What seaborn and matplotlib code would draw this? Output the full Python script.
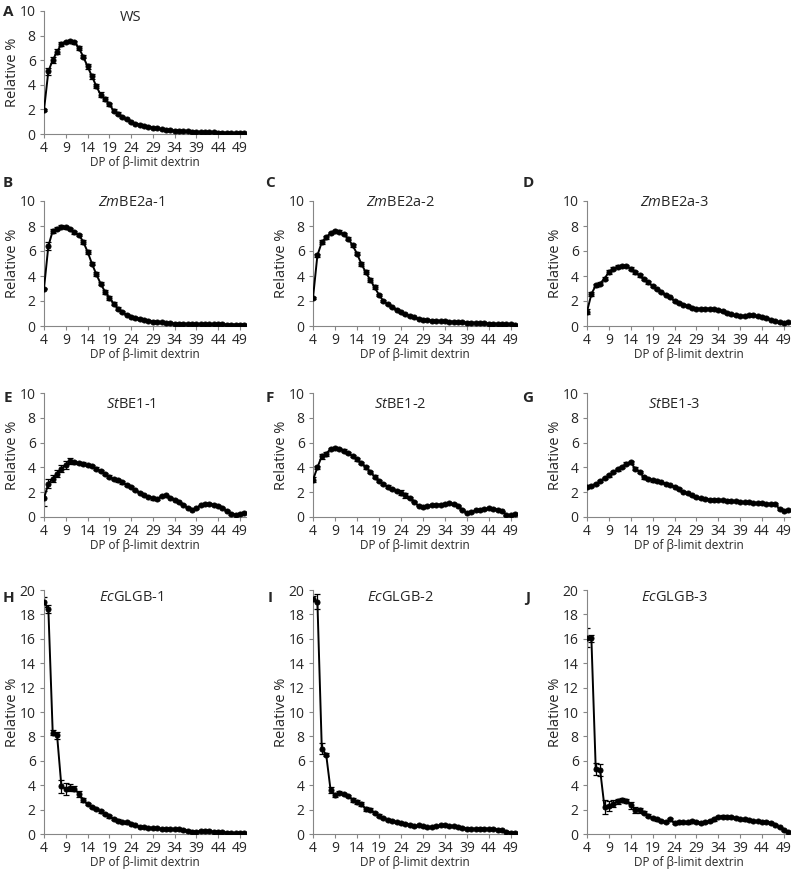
import matplotlib
matplotlib.use('Agg')
import numpy as np
import pandas as pd
import matplotlib.pyplot as plt
import seaborn as sns

# Degree of polymerisation (x axis categories)
dp = list(range(4, 51))
xticks = list(range(4, 50, 5))

# Relative % (DP 4..50)
ws = [1.95, 5.1, 6.0, 6.7, 7.3, 7.5, 7.55, 7.45, 7.0, 6.3,
      5.5, 4.7, 3.9, 3.2, 2.85, 2.4, 1.9, 1.65, 1.4, 1.2,
      0.95, 0.85, 0.75, 0.68, 0.6, 0.52, 0.45, 0.4, 0.35, 0.3,
      0.27, 0.25, 0.23, 0.21, 0.19, 0.17, 0.16, 0.15, 0.14, 0.13,
      0.12, 0.11, 0.1, 0.09, 0.08, 0.07, 0.06]
zm1 = [3.0, 6.4, 7.6, 7.8, 7.95, 7.9, 7.75, 7.5, 7.3, 6.75,
       5.95, 5.0, 4.15, 3.4, 2.75, 2.25, 1.8, 1.4, 1.12, 0.9,
       0.75, 0.65, 0.57, 0.5, 0.42, 0.36, 0.32, 0.3, 0.25, 0.22,
       0.2, 0.19, 0.18, 0.17, 0.17, 0.16, 0.16, 0.15, 0.15, 0.14,
       0.13, 0.13, 0.12, 0.12, 0.11, 0.1, 0.1]
zm2 = [2.25, 5.65, 6.7, 7.1, 7.45, 7.6, 7.55, 7.35, 7.0, 6.45,
       5.8, 4.97, 4.3, 3.7, 3.1, 2.5, 2.0, 1.75, 1.5, 1.3,
       1.1, 0.95, 0.8, 0.7, 0.6, 0.52, 0.47, 0.44, 0.42, 0.4,
       0.38, 0.36, 0.34, 0.32, 0.3, 0.28, 0.26, 0.25, 0.23, 0.22,
       0.2, 0.19, 0.17, 0.16, 0.14, 0.13, 0.12]
zm3 = [1.15, 2.55, 3.25, 3.4, 3.8, 4.3, 4.6, 4.75, 4.8, 4.8,
       4.6, 4.3, 4.05, 3.75, 3.5, 3.2, 2.95, 2.7, 2.5, 2.3,
       2.0, 1.85, 1.7, 1.6, 1.45, 1.38, 1.38, 1.4, 1.38, 1.35,
       1.3, 1.2, 1.05, 0.95, 0.85, 0.82, 0.8, 0.85, 0.85, 0.8,
       0.75, 0.65, 0.5, 0.38, 0.3, 0.28, 0.3]
st1 = [1.5, 2.7, 3.1, 3.5, 3.9, 4.2, 4.5, 4.4, 4.35, 4.3,
       4.2, 4.1, 3.9, 3.7, 3.45, 3.25, 3.05, 2.95, 2.8, 2.6,
       2.4, 2.15, 1.95, 1.75, 1.65, 1.5, 1.45, 1.7, 1.75, 1.55,
       1.4, 1.2, 1.0, 0.75, 0.6, 0.7, 0.95, 1.05, 1.05, 1.0,
       0.9, 0.75, 0.5, 0.25, 0.2, 0.25, 0.35]
st2 = [3.0, 4.0, 4.9, 5.1, 5.5, 5.55, 5.5, 5.35, 5.15, 4.9,
       4.65, 4.35, 4.0, 3.65, 3.25, 2.9, 2.65, 2.45, 2.25, 2.1,
       1.95, 1.75, 1.55, 1.25, 0.9, 0.8, 0.9, 0.95, 1.0, 1.0,
       1.05, 1.1, 1.05, 0.9, 0.6, 0.35, 0.4, 0.55, 0.6, 0.65,
       0.7, 0.65, 0.6, 0.45, 0.15, 0.15, 0.25]
st3 = [2.45, 2.5, 2.65, 2.9, 3.15, 3.35, 3.65, 3.85, 4.05, 4.3,
       4.4, 3.9, 3.65, 3.2, 3.05, 2.95, 2.9, 2.8, 2.7, 2.55,
       2.45, 2.25, 2.05, 1.9, 1.75, 1.6, 1.5, 1.45, 1.4, 1.4,
       1.38, 1.35, 1.32, 1.3, 1.28, 1.25, 1.2, 1.18, 1.15, 1.12,
       1.1, 1.08, 1.05, 1.05, 0.65, 0.5, 0.55]
ec1 = [19.0, 18.45, 8.3, 8.1, 3.9, 3.7, 3.8, 3.7, 3.3, 2.8,
       2.45, 2.2, 2.05, 1.85, 1.65, 1.45, 1.25, 1.1, 1.0, 0.95,
       0.85, 0.7, 0.6, 0.55, 0.52, 0.5, 0.48, 0.42, 0.42, 0.42,
       0.4, 0.38, 0.33, 0.25, 0.2, 0.2, 0.22, 0.25, 0.22, 0.2,
       0.18, 0.15, 0.12, 0.08, 0.05, 0.05, 0.1]
ec2 = [19.3, 19.05, 7.0, 6.5, 3.6, 3.2, 3.4, 3.3, 3.1, 2.8,
       2.6, 2.45, 2.05, 2.0, 1.7, 1.5, 1.3, 1.15, 1.1, 0.95,
       0.9, 0.85, 0.75, 0.65, 0.7, 0.65, 0.55, 0.6, 0.65, 0.7,
       0.7, 0.68, 0.65, 0.6, 0.5, 0.45, 0.42, 0.42, 0.45, 0.45,
       0.42, 0.42, 0.35, 0.3, 0.2, 0.1, 0.12]
ec3 = [16.1, 16.05, 5.3, 5.25, 2.2, 2.3, 2.5, 2.7, 2.8, 2.7,
       2.35, 2.0, 1.95, 1.75, 1.5, 1.3, 1.2, 1.05, 1.0, 1.2,
       0.9, 0.95, 1.0, 0.95, 1.05, 1.0, 0.9, 1.0, 1.05, 1.2,
       1.4, 1.42, 1.4, 1.4, 1.3, 1.25, 1.2, 1.15, 1.1, 1.05,
       1.0, 1.0, 0.9, 0.75, 0.55, 0.3, 0.2]

# Standard errors (estimated from the bars)
ws_err = [0.1, 0.3, 0.25, 0.2, 0.15, 0.1, 0.1, 0.1, 0.15, 0.15,
          0.2, 0.2, 0.2, 0.2, 0.15, 0.15, 0.1, 0.1, 0.1, 0.05,
          0.05, 0.05, 0.05, 0.05, 0.05, 0.05, 0.05, 0.03, 0.03, 0.03,
          0.03, 0.03, 0.03, 0.03, 0.03, 0.03, 0.03, 0.03, 0.03, 0.03,
          0.03, 0.03, 0.03, 0.03, 0.03, 0.03, 0.03]
zm1_err = [0.05, 0.35, 0.15, 0.1, 0.1, 0.1, 0.1, 0.1, 0.1, 0.15,
           0.15, 0.15, 0.15, 0.15, 0.15, 0.15, 0.1, 0.1, 0.05, 0.05,
           0.05, 0.05, 0.05, 0.05, 0.05, 0.05, 0.05, 0.03, 0.03, 0.03,
           0.03, 0.03, 0.03, 0.03, 0.03, 0.03, 0.03, 0.03, 0.03, 0.03,
           0.03, 0.03, 0.03, 0.03, 0.03, 0.03, 0.03]
zm2_err = [0.1, 0.15, 0.15, 0.1, 0.1, 0.1, 0.1, 0.1, 0.15, 0.15,
           0.15, 0.15, 0.15, 0.15, 0.15, 0.1, 0.1, 0.05, 0.05, 0.05,
           0.05, 0.05, 0.05, 0.05, 0.03, 0.03, 0.03, 0.03, 0.03, 0.03,
           0.03, 0.03, 0.03, 0.03, 0.03, 0.03, 0.03, 0.03, 0.03, 0.03,
           0.03, 0.03, 0.03, 0.03, 0.03, 0.03, 0.03]
zm3_err = [0.2, 0.15, 0.1, 0.15, 0.15, 0.15, 0.1, 0.1, 0.1, 0.1,
           0.1, 0.1, 0.1, 0.1, 0.1, 0.05, 0.05, 0.05, 0.05, 0.05,
           0.05, 0.05, 0.05, 0.05, 0.05, 0.05, 0.05, 0.05, 0.05, 0.05,
           0.05, 0.05, 0.05, 0.05, 0.05, 0.05, 0.05, 0.05, 0.05, 0.05,
           0.05, 0.05, 0.05, 0.05, 0.05, 0.05, 0.05]
st1_err = [0.6, 0.35, 0.3, 0.3, 0.3, 0.35, 0.25, 0.1, 0.1, 0.1,
           0.1, 0.1, 0.1, 0.1, 0.1, 0.1, 0.1, 0.1, 0.1, 0.1,
           0.1, 0.05, 0.05, 0.05, 0.05, 0.1, 0.05, 0.05, 0.05, 0.05,
           0.05, 0.05, 0.05, 0.05, 0.05, 0.05, 0.05, 0.05, 0.05, 0.05,
           0.05, 0.05, 0.05, 0.05, 0.05, 0.05, 0.05]
st2_err = [0.2, 0.15, 0.2, 0.15, 0.1, 0.1, 0.1, 0.1, 0.1, 0.1,
           0.1, 0.1, 0.1, 0.1, 0.1, 0.1, 0.1, 0.1, 0.1, 0.1,
           0.2, 0.2, 0.1, 0.05, 0.05, 0.05, 0.05, 0.05, 0.05, 0.05,
           0.05, 0.05, 0.05, 0.05, 0.05, 0.05, 0.05, 0.05, 0.05, 0.05,
           0.05, 0.05, 0.05, 0.05, 0.05, 0.05, 0.05]
st3_err = [0.1, 0.1, 0.1, 0.1, 0.1, 0.1, 0.1, 0.1, 0.1, 0.1,
           0.1, 0.1, 0.1, 0.1, 0.1, 0.1, 0.1, 0.05, 0.05, 0.05,
           0.05, 0.05, 0.05, 0.05, 0.05, 0.05, 0.05, 0.05, 0.05, 0.05,
           0.05, 0.05, 0.05, 0.05, 0.05, 0.05, 0.05, 0.05, 0.05, 0.05,
           0.05, 0.05, 0.05, 0.1, 0.1, 0.05, 0.05]
ec1_err = [0.4, 0.3, 0.2, 0.3, 0.5, 0.5, 0.3, 0.2, 0.25, 0.15,
           0.1, 0.1, 0.1, 0.1, 0.1, 0.1, 0.1, 0.1, 0.1, 0.1,
           0.05, 0.05, 0.05, 0.05, 0.05, 0.05, 0.05, 0.05, 0.05, 0.05,
           0.05, 0.05, 0.05, 0.05, 0.05, 0.05, 0.05, 0.05, 0.05, 0.05,
           0.05, 0.05, 0.05, 0.05, 0.05, 0.05, 0.05]
ec2_err = [0.2, 0.6, 0.45, 0.1, 0.25, 0.15, 0.1, 0.1, 0.1, 0.15,
           0.15, 0.15, 0.15, 0.1, 0.1, 0.1, 0.1, 0.05, 0.05, 0.05,
           0.05, 0.05, 0.05, 0.05, 0.05, 0.05, 0.05, 0.05, 0.05, 0.05,
           0.05, 0.05, 0.05, 0.05, 0.05, 0.05, 0.05, 0.05, 0.05, 0.05,
           0.05, 0.05, 0.05, 0.05, 0.05, 0.05, 0.05]
ec3_err = [0.8, 0.3, 0.5, 0.5, 0.55, 0.4, 0.3, 0.2, 0.15, 0.15,
           0.3, 0.25, 0.2, 0.15, 0.1, 0.1, 0.1, 0.1, 0.1, 0.1,
           0.1, 0.1, 0.1, 0.1, 0.1, 0.1, 0.1, 0.1, 0.1, 0.1,
           0.1, 0.1, 0.1, 0.1, 0.1, 0.1, 0.1, 0.1, 0.05, 0.05,
           0.05, 0.05, 0.05, 0.05, 0.05, 0.05, 0.05]

titles = ['WS', r'$\it{Zm}$BE2a-1', r'$\it{Zm}$BE2a-2', r'$\it{Zm}$BE2a-3',
          r'$\it{St}$BE1-1', r'$\it{St}$BE1-2', r'$\it{St}$BE1-3',
          r'$\it{Ec}$GLGB-1', r'$\it{Ec}$GLGB-2', r'$\it{Ec}$GLGB-3']
letters = ['A', 'B', 'C', 'D', 'E', 'F', 'G', 'H', 'I', 'J']

sns.set_theme(style='ticks')
plt.rcParams['font.family'] = ['Open Sans', 'DejaVu Sans']
plt.rcParams['mathtext.fontset'] = 'custom'
plt.rcParams['mathtext.rm'] = 'Open Sans'
plt.rcParams['mathtext.it'] = 'Open Sans:italic'

fig = plt.figure(figsize=(7.94, 8.75), dpi=100)

# pixel layout (left, right) per column and (top, bottom) per row
cols = [(44, 246), (313, 517), (587, 790)]
rows = [(11, 134), (201, 326), (393, 517), (590, 834)]
letter_x = [8, 270, 528]
letter_y = [12, 183, 398, 598]
title_y = [0.95, 0.99, 0.91, 0.97]

panels = [
    (ws, ws_err, 0, 0), (zm1, zm1_err, 1, 0), (zm2, zm2_err, 1, 1), (zm3, zm3_err, 1, 2),
    (st1, st1_err, 2, 0), (st2, st2_err, 2, 1), (st3, st3_err, 2, 2),
    (ec1, ec1_err, 3, 0), (ec2, ec2_err, 3, 1), (ec3, ec3_err, 3, 2),
]

grey = '#868686'
for i, (vals, errs, r, c) in enumerate(panels):
    l, rr = cols[c]
    t, b = rows[r]
    ax = fig.add_axes([l / 794, 1 - b / 875, (rr - l) / 794, (b - t) / 875])
    df = pd.DataFrame({'DP': dp, 'rel': vals, 'err': errs})
    ax.errorbar(df['DP'], df['rel'], yerr=df['err'], fmt='none', ecolor='black',
                elinewidth=0.9, capsize=2.4, capthick=0.9, zorder=2)
    sns.lineplot(data=df, x='DP', y='rel', ax=ax, color='black', marker='o',
                 markersize=3.6, markeredgecolor='black', linewidth=1.4, zorder=3)
    ymax = 20 if r == 3 else 10
    ax.set_ylim(0, ymax)
    ax.set_yticks(range(0, ymax + 1, 2))
    ax.set_xlim(4, 50.4)
    ax.set_xticks(xticks)
    ax.set_xlabel('DP of β-limit dextrin', fontsize=8.5, labelpad=0)
    ax.set_ylabel('Relative %', fontsize=10.5, labelpad=0)
    ax.tick_params(axis='both', labelsize=10, color=grey, length=3, width=0.8)
    ax.tick_params(axis='x', pad=2)
    ax.tick_params(axis='y', pad=3)
    for s in ['left', 'bottom']:
        ax.spines[s].set_color(grey)
        ax.spines[s].set_linewidth(0.8)
    sns.despine(ax=ax)
    ax.text(0.43, title_y[r], titles[i], transform=ax.transAxes, ha='center',
            va='center', fontsize=10.5)
    fig.text(letter_x[c] / 794, 1 - letter_y[r] / 875, letters[i], ha='center',
             va='center', fontsize=11, fontweight='bold')

fig.savefig('out.png', dpi=100)
